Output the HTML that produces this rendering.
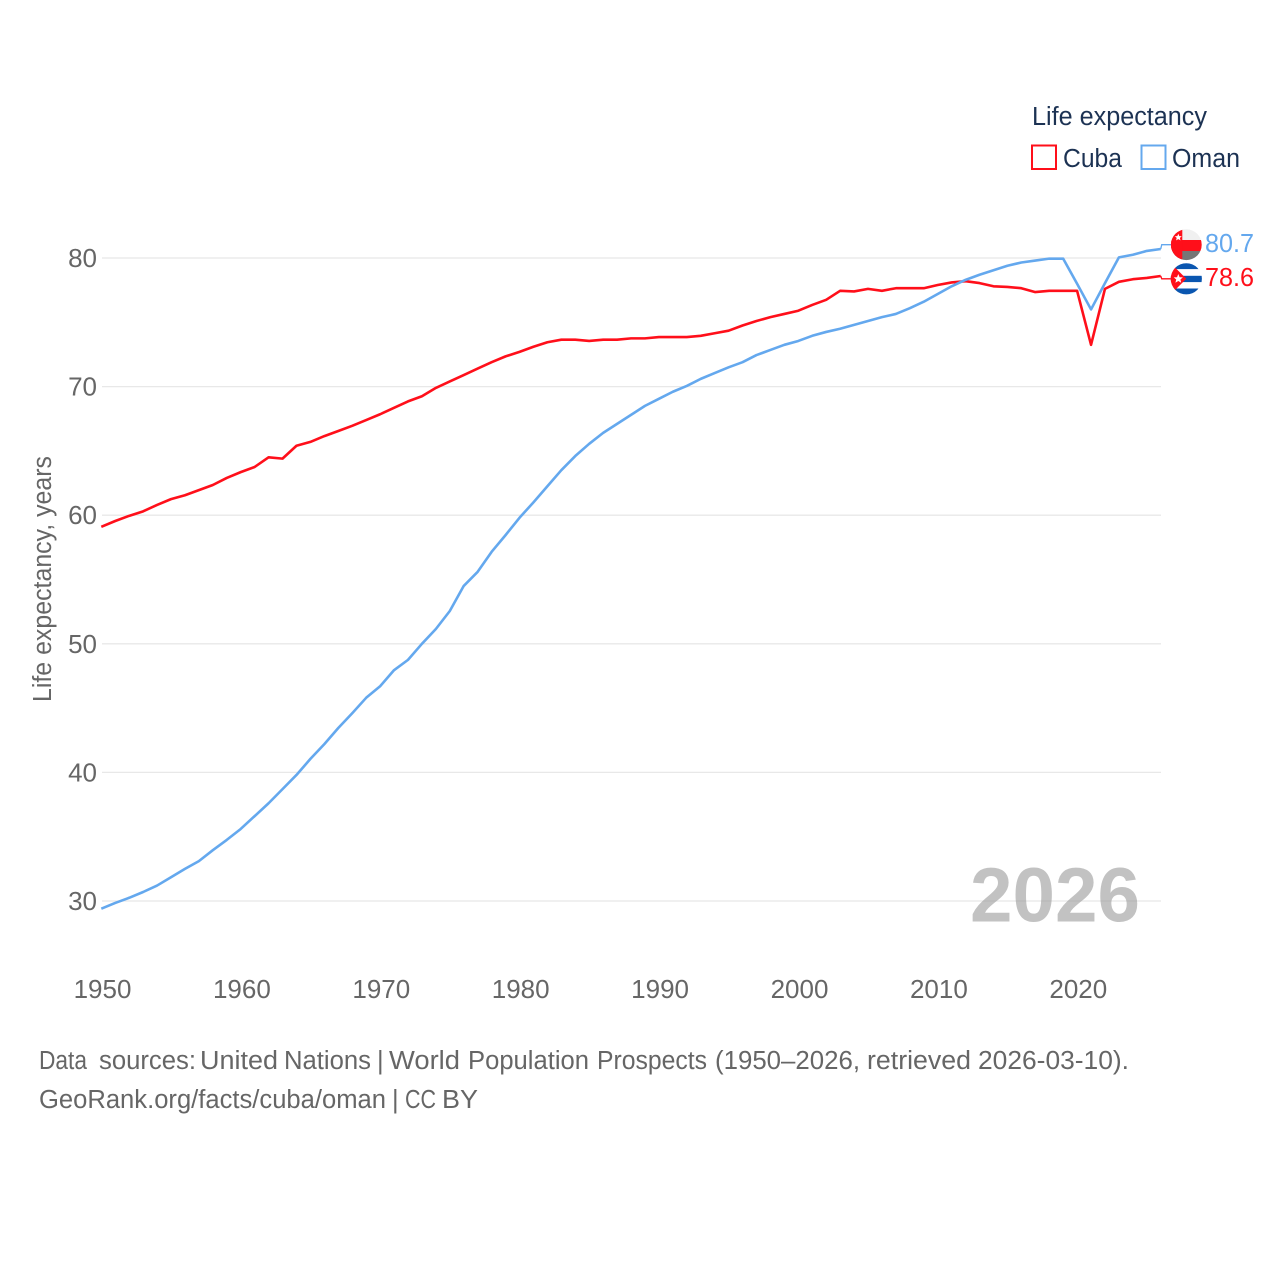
<!DOCTYPE html>
<html lang="en">
<head>
<meta charset="utf-8">
<title>Life expectancy: Cuba and Oman</title>
<style>
html,body{margin:0;padding:0;background:#fff;width:1280px;height:1280px;overflow:hidden}
svg{display:block}
text{font-family:"Liberation Sans",sans-serif}
</style>
</head>
<body>
<svg id="chart" width="1280" height="1280" viewBox="0 0 1280 1280" xmlns="http://www.w3.org/2000/svg">
  <defs>
    <clipPath id="clip-oman"><circle cx="0" cy="0" r="15.4"/></clipPath>
    <clipPath id="clip-cuba"><circle cx="0" cy="0" r="15.6"/></clipPath>
  </defs>
  <g id="grid"></g>
  <g id="yticks"></g>
  <g id="xticks"></g>
  <text x="0" y="0" transform="translate(51,702) rotate(-90)" font-size="25.5" fill="#666666" textLength="246" lengthAdjust="spacingAndGlyphs">Life expectancy, years</text>
  <text x="970" y="921.5" font-size="77" font-weight="700" fill="#8f8f8f" fill-opacity="0.55" textLength="170" lengthAdjust="spacingAndGlyphs">2026</text>
  <g id="series"></g>
  <g id="oman-flag">
    <g clip-path="url(#clip-oman)">
      <rect x="-16" y="-16" width="32" height="32" fill="#f0f0f0"/>
      <rect x="-16" y="6.3" width="32" height="10" fill="#767676"/>
      <rect x="-16" y="-4.7" width="32" height="11" fill="#ff0f1a"/>
      <rect x="-16" y="-16" width="12" height="32" fill="#ff0f1a"/>
      <polygon points="-8,-11 -7,-8.6 -4.5,-8.4 -6.4,-6.8 -5.8,-4.3 -8,-5.6 -10.2,-4.3 -9.6,-6.8 -11.5,-8.4 -9,-8.6" fill="#ffffff"/>
    </g>
  </g>
  <g id="cuba-flag">
    <g clip-path="url(#clip-cuba)">
      <rect x="-16" y="-16" width="32" height="32" fill="#ffffff"/>
      <rect x="-16" y="-16" width="32" height="6.3" fill="#0a56b0"/>
      <rect x="-16" y="-3" width="32" height="6.3" fill="#0a56b0"/>
      <rect x="-16" y="9.7" width="32" height="6.5" fill="#0a56b0"/>
      <polygon points="-16,-16 0,0 -16,16" fill="#ff0f1a"/>
      <polygon points="-8,-4.8 -6.7,-1.6 -3.4,-1.4 -5.9,0.7 -5.1,4 -8,2.2 -10.9,4 -10.1,0.7 -12.6,-1.4 -9.3,-1.6" fill="#ffffff"/>
    </g>
  </g>
  <g id="end-labels"></g>
  <g>
    <text x="1032" y="125" font-size="25.5" fill="#1c3253" textLength="175" lengthAdjust="spacingAndGlyphs">Life expectancy</text>
    <g>
      <rect x="1032" y="145.5" width="24" height="23.5" fill="none" stroke="#ff0f1a" stroke-width="2"/>
      <text x="1063" y="167" font-size="25.5" fill="#1c3253" textLength="59" lengthAdjust="spacingAndGlyphs">Cuba</text>
    </g>
    <g>
      <rect x="1141.5" y="145.5" width="24" height="23.5" fill="none" stroke="#64a8ee" stroke-width="2"/>
      <text x="1172" y="167" font-size="25.5" fill="#1c3253" textLength="68" lengthAdjust="spacingAndGlyphs">Oman</text>
    </g>
  </g>
  <text y="1069" font-size="25.5" fill="#666666"><tspan x="39" textLength="48" lengthAdjust="spacingAndGlyphs">Data</tspan> <tspan x="99" textLength="97" lengthAdjust="spacingAndGlyphs">sources:</tspan> <tspan x="200" textLength="78" lengthAdjust="spacingAndGlyphs">United</tspan> <tspan x="284" textLength="87" lengthAdjust="spacingAndGlyphs">Nations</tspan> <tspan x="377">|</tspan> <tspan x="389" textLength="71" lengthAdjust="spacingAndGlyphs">World</tspan> <tspan x="468" textLength="121" lengthAdjust="spacingAndGlyphs">Population</tspan> <tspan x="597" textLength="110" lengthAdjust="spacingAndGlyphs">Prospects</tspan> <tspan x="715" textLength="145" lengthAdjust="spacingAndGlyphs">(1950–2026,</tspan> <tspan x="867" textLength="104" lengthAdjust="spacingAndGlyphs">retrieved</tspan> <tspan x="978" textLength="151" lengthAdjust="spacingAndGlyphs">2026-03-10).</tspan></text>
  <text y="1108" font-size="25.5" fill="#666666"><tspan x="39" textLength="347" lengthAdjust="spacingAndGlyphs">GeoRank.org/facts/cuba/oman</tspan> <tspan x="392">|</tspan> <tspan x="405" textLength="31" lengthAdjust="spacingAndGlyphs">CC</tspan> <tspan x="442" textLength="36" lengthAdjust="spacingAndGlyphs">BY</tspan></text>
</svg>
<script>
var startYear = 1950;
var yTickValues = [30, 40, 50, 60, 70, 80];
var xTickValues = [1950, 1960, 1970, 1980, 1990, 2000, 2010, 2020];
var cubaValues = [59.1,59.55,59.95,60.3,60.8,61.25,61.55,61.95,62.35,62.9,63.35,63.75,64.5,64.4,65.4,65.7,66.15,66.55,66.95,67.4,67.85,68.35,68.85,69.25,69.9,70.4,70.9,71.4,71.9,72.35,72.7,73.1,73.45,73.65,73.65,73.55,73.65,73.65,73.75,73.75,73.85,73.85,73.85,73.95,74.15,74.35,74.75,75.1,75.4,75.65,75.9,76.35,76.75,77.45,77.4,77.6,77.45,77.65,77.65,77.65,77.9,78.1,78.2,78.05,77.8,77.75,77.65,77.35,77.45,77.45,77.45,73.25,77.6,78.15,78.35,78.45,78.6];
var omanValues = [29.4,29.85,30.25,30.7,31.2,31.85,32.5,33.1,33.95,34.75,35.6,36.6,37.6,38.7,39.8,41.05,42.2,43.45,44.6,45.8,46.7,47.95,48.75,50,51.15,52.55,54.5,55.6,57.15,58.45,59.8,61,62.25,63.5,64.6,65.55,66.4,67.1,67.8,68.5,69.05,69.6,70.05,70.6,71.05,71.5,71.9,72.45,72.85,73.25,73.55,73.95,74.25,74.5,74.8,75.1,75.4,75.65,76.1,76.6,77.2,77.8,78.3,78.7,79.05,79.4,79.65,79.8,79.95,79.95,78,76,78.05,80.05,80.25,80.55,80.7];
var svgNS = 'http://www.w3.org/2000/svg';
function xScale(year) { return 101.3 + (year - 1950) * 13.94; }
function yScale(v) { return 258 + (80 - v) * 12.86; }
function make(tag, parent) {
  var el = document.createElementNS(svgNS, tag);
  parent.appendChild(el);
  return el;
}
var grid = document.getElementById('grid');
var yticks = document.getElementById('yticks');
var xticks = document.getElementById('xticks');
var series = document.getElementById('series');
var endLabels = document.getElementById('end-labels');

yTickValues.forEach(function (v) {
  var line = make('line', grid);
  
  
  line.setAttribute('x1', 102);
  line.setAttribute('x2', 1161);
  line.setAttribute('y1', yScale(v));
  line.setAttribute('y2', yScale(v));
  line.setAttribute('stroke', '#e8e8e8');
  line.setAttribute('stroke-width', '1.3');
  var t = make('text', yticks);
  
  
  t.setAttribute('x', 97);
  t.setAttribute('y', yScale(v) + 9);
  t.setAttribute('text-anchor', 'end');
  t.setAttribute('font-size', '26');
  t.setAttribute('fill', '#666666');
  t.textContent = v;
});

xTickValues.forEach(function (year) {
  var t = make('text', xticks);
  
  
  t.setAttribute('x', xScale(year) + 1.2);
  t.setAttribute('y', 998);
  t.setAttribute('text-anchor', 'middle');
  t.setAttribute('font-size', '26');
  t.setAttribute('fill', '#666666');
  t.textContent = year;
});

function drawSeries(name, values, color, flagId, flagOffset, labelBaselineOffset) {
  var pts = values.map(function (v, i) {
    return xScale(startYear + i).toFixed(2) + ',' + yScale(v).toFixed(2);
  });
  var lastIndex = values.length - 1;
  var lastX = xScale(startYear + lastIndex);
  var lastY = yScale(values[lastIndex]);
  var flagY = lastY + flagOffset;

  var connector = make('polyline', series);
  
  
  connector.setAttribute('points', lastX + ',' + lastY + ' ' + (lastX + 1) + ',' + flagY + ' ' + (lastX + 12) + ',' + flagY);
  connector.setAttribute('fill', 'none');
  connector.setAttribute('stroke', color);
  connector.setAttribute('stroke-width', '1.3');

  var line = make('polyline', series);
  
  
  line.setAttribute('points', pts.join(' '));
  line.setAttribute('fill', 'none');
  line.setAttribute('stroke', color);
  line.setAttribute('stroke-width', '2.6');
  line.setAttribute('stroke-linejoin', 'round');

  document.getElementById(flagId).setAttribute('transform', 'translate(1186.3,' + flagY + ')');

  var label = make('text', endLabels);
  
  
  label.setAttribute('x', 1205);
  label.setAttribute('y', flagY + labelBaselineOffset);
  label.setAttribute('font-size', '26');
  label.setAttribute('fill', color);
  label.setAttribute('textLength', '49');
  label.setAttribute('lengthAdjust', 'spacingAndGlyphs');
  label.textContent = values[lastIndex].toFixed(1);
}
drawSeries('cuba', cubaValues, '#ff0f1a', 'cuba-flag', 2.8, 7.2);
drawSeries('oman', omanValues, '#64a8ee', 'oman-flag', -4.3, 7.3);
</script>
</body>
</html>
